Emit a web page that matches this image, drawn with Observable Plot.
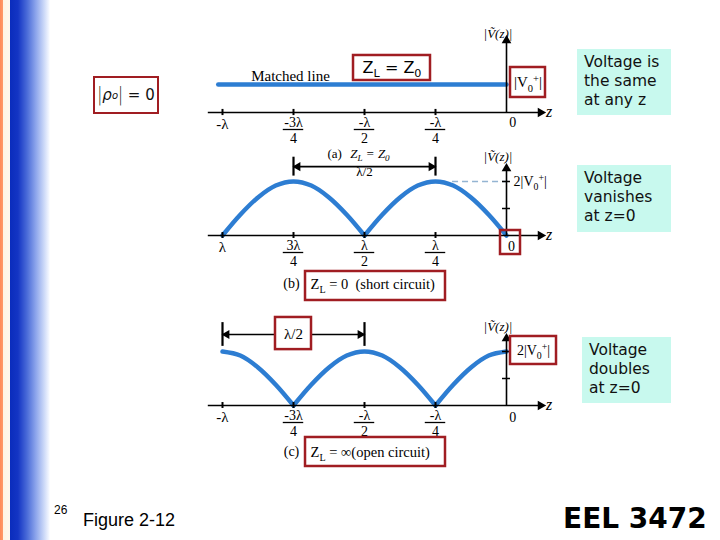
<!DOCTYPE html>
<html>
<head>
<meta charset="utf-8">
<script src="https://cdn.jsdelivr.net/npm/d3@7"></script>
<script src="https://cdn.jsdelivr.net/npm/@observablehq/plot@0.6"></script>
<style>
  html, body { margin: 0; padding: 0; background: #fff; }
  #slide { position: relative; width: 720px; height: 540px; overflow: hidden; background: #fff; }
  #stripe { position: absolute; left: 0; top: 0; width: 50px; height: 540px;
    background: linear-gradient(to right, #ff8a58 0px, #ff9a6a 3px, #fff4e4 3px, #fff8ee 10px,
      #0a2cbc 10px, #1435c4 18px, #4a6bd8 27px, #8ea6ec 36px, #cbd8f8 44px, #f4f7ff 49px, #ffffff 50px); }
  .pane { position: absolute; left: 0; }
  .note { position: absolute; background: #c8f9ee; font-family: "DejaVu Sans", Verdana, sans-serif;
    font-size: 15.5px; line-height: 19px; color: #111; box-sizing: border-box; padding: 4px 0 0 7px; }
  #rho { position: absolute; left: 93px; top: 76px; width: 66px; height: 38px; box-sizing: border-box;
    border: 2.5px solid #a01d22; font-family: "DejaVu Sans", sans-serif; font-size: 15px; white-space: nowrap;
    display: flex; align-items: center; justify-content: center; color: #111; }
  #rho .bar { font-family: "DejaVu Sans", sans-serif; font-weight: 200; transform: scaleY(1.25); display: inline-block; }
  #rho sub { font-size: 10px; font-style: italic; vertical-align: -3px; }
  .foot { position: absolute; color: #000; white-space: nowrap; }
</style>
</head>
<body>
<div id="slide">
  <div id="stripe"></div>
  <div id="pa" class="pane" style="top:0px"></div>
  <div id="pb" class="pane" style="top:140px"></div>
  <div id="pc" class="pane" style="top:302px"></div>
  <div id="rho"><span class="bar">|</span><i>ρ</i><sub>o</sub><span class="bar">|</span>&nbsp;=&nbsp;0</div>
  <div class="note" style="left:577px;top:49px;width:94px;height:66px">Voltage is<br>the same<br>at any z</div>
  <div class="note" style="left:577px;top:165px;width:94px;height:67px">Voltage<br>vanishes<br>at z=0</div>
  <div class="note" style="left:582px;top:337px;width:89px;height:66px">Voltage<br>doubles<br>at z=0</div>
  <div class="foot" style="left:54px;top:503px;font:12px 'Liberation Sans',Arial,sans-serif">26</div>
  <div class="foot" style="left:83px;top:510px;font:18px 'Liberation Sans',Arial,sans-serif">Figure 2-12</div>
  <div class="foot" style="left:563px;top:502px;font:bold 28px 'DejaVu Sans',Verdana,sans-serif">EEL 3472</div>
</div>
<script>
// ---------------- data (z in units of λ, |V| in units of |V0+|) ----------------
const zDomain = [-506 / 284, 214 / 284];
const zAxisExtent = [-1.05, 0.12];
const tickZ = [-1, -0.75, -0.5, -0.25];
const tickNumNeg = ["-λ", "-3λ", "-λ", "-λ"];
const tickNumPos = ["λ", "3λ", "λ", "λ"];
const tickDen = ["", "4", "2", "4"];
const vTicks = [1, 2];

// (a) matched line: flat |V| = |V0+|
const matchedZ = [-1.015, 0];
const matchedV = [1, 1];

// sample positions
const sampleZ = [-1, -0.9375, -0.875, -0.8125, -0.75, -0.6875, -0.625, -0.5625, -0.5,
                 -0.4375, -0.375, -0.3125, -0.25, -0.1875, -0.125, -0.0625, 0];
// (b) short circuit
const shortV = [0, 0.77, 1.41, 1.85, 2, 1.85, 1.41, 0.77, 0, 0.77, 1.41, 1.85, 2, 1.85, 1.41, 0.77, 0];
// (c) open circuit
const openV = [2, 1.85, 1.41, 0.77, 0, 0.77, 1.41, 1.85, 2, 1.85, 1.41, 0.77, 0, 0.77, 1.41, 1.85, 2];

const BLUE = "#2d7dd2";
const RED = "#a01d22";
const SERIF = "Liberation Serif, Times New Roman, serif";
const SANS = "DejaVu Sans, Verdana, sans-serif";

// split a |V| curve into arches at its zeros
function arches(zs, vs) {
  const out = [];
  let k = 0;
  zs.forEach((z, i) => {
    out.push({ z, v: vs[i], arch: k });
    if (vs[i] === 0 && i > 0 && i < zs.length - 1) { k++; out.push({ z, v: vs[i], arch: k }); }
  });
  return out;
}

function axisMarks(vTop, nums) {
  const ticks = tickZ.map((z, i) => ({ z, num: nums[i], den: tickDen[i] }));
  const withDen = ticks.filter(d => d.den);
  return [
    Plot.ruleY([0], { x1: zAxisExtent[0], x2: zAxisExtent[1], stroke: "#000", strokeWidth: 1.6 }),
    Plot.dot([0], { x: zAxisExtent[1], y: 0, symbol: "triangle", r: 3.6, fill: "#000", stroke: "none", rotate: 90 }),
    Plot.ruleX([0], { y1: 0, y2: vTop, stroke: "#000", strokeWidth: 1.6 }),
    Plot.dot([0], { x: 0, y: vTop, symbol: "triangle", r: 3.6, fill: "#000", stroke: "none" }),
    Plot.ruleX(tickZ, { y1: -0.11, y2: 0.11, stroke: "#000", strokeWidth: 2 }),
    Plot.text(ticks.filter(d => !d.den), { x: "z", y: 0, text: "num", dy: 12, fontFamily: SERIF, fontSize: 15 }),
    Plot.text(withDen, { x: "z", y: 0, text: "num", dy: 10, fontFamily: SERIF, fontSize: 14 }),
    Plot.ruleY(withDen, { y: 0, x1: d => d.z - 0.036, x2: d => d.z + 0.036, dy: 17, stroke: "#000", strokeWidth: 1.3 }),
    Plot.text(withDen, { x: "z", y: 0, text: "den", dy: 26, fontFamily: SERIF, fontSize: 14 }),
    Plot.text(["z"], { x: 0.15, y: 0, text: d => d, dy: -1, fontFamily: SERIF, fontStyle: "italic", fontSize: 16 })
  ];
}

function vTickMarks() {
  return Plot.ruleY(vTicks, { x1: -0.014, x2: 0.014, stroke: "#000", strokeWidth: 1.5 });
}

// turn "_x" / "^x" into sub/superscript tspans
function richText(svg) {
  const NS = "http://www.w3.org/2000/svg";
  svg.querySelectorAll("text").forEach(t => {
    const s = t.textContent;
    if (!/[_^]/.test(s)) return;
    const host = t.closest("[font-size]");
    const fs = host ? parseFloat(host.getAttribute("font-size")) : 12;
    t.textContent = "";
    let off = 0;
    for (let i = 0; i < s.length; i++) {
      let ch = s[i], target = 0, small = false;
      if ((ch === "_" || ch === "^") && i + 1 < s.length) {
        target = ch === "_" ? fs * 0.28 : -fs * 0.38;
        small = true;
        ch = s[++i];
      }
      const ts = document.createElementNS(NS, "tspan");
      ts.textContent = ch;
      if (small) ts.setAttribute("font-size", (fs * 0.7).toFixed(1));
      const d = target - off;
      if (d) ts.setAttribute("dy", d.toFixed(2));
      off = target;
      t.appendChild(ts);
    }
  });
  return svg;
}

function make(height, yDomain, marks) {
  const svg = Plot.plot({
    width: 720, height,
    marginLeft: 0, marginRight: 0, marginTop: 0, marginBottom: 0,
    x: { domain: zDomain, axis: null },
    y: { domain: yDomain, axis: null },
    style: { background: "transparent", overflow: "visible" },
    marks
  });
  return richText(svg);
}

// ---------------- panel (a): matched line ----------------
const matched = matchedZ.map((z, i) => ({ z, v: matchedV[i] }));
document.getElementById("pa").append(make(140, [-1, 4], [
  Plot.line(matched, { x: "z", y: "v", stroke: BLUE, strokeWidth: 4.5, strokeLinecap: "round" }),
  ...axisMarks(2.57, tickNumNeg),
  Plot.text(["0"], { x: 0.022, y: 0, text: d => d, dy: 10, fontFamily: SERIF, fontSize: 14 }),
  Plot.text(["Matched line"], { x: -0.7606, y: 1.29, text: d => d, fontFamily: SERIF, fontSize: 15 }),
  Plot.rect([0], { x1: -0.5387, x2: -0.2676, y1: 1.143, y2: 2.036, fill: "white", stroke: RED, strokeWidth: 2.5 }),
  Plot.text(["Z_L = Z_0"], { x: -0.403, y: 1.6, text: d => d, fontFamily: SANS, fontSize: 16 }),
  Plot.rect([0], { x1: 0.0141, x2: 0.1373, y1: 0.536, y2: 1.607, fill: "white", stroke: RED, strokeWidth: 2.5 }),
  Plot.text(["|V_0^+|"], { x: 0.0757, y: 1.07, text: d => d, fontFamily: SERIF, fontSize: 15 }),
  Plot.text(["|Ṽ(z)|"], { x: -0.03, y: 2.82, text: d => d, fontFamily: SERIF, fontStyle: "italic", fontSize: 13 })
]));

// ---------------- panel (b): short circuit ----------------
document.getElementById("pb").append(make(162, [-67 / 27, 95 / 27], [
  Plot.ruleY([2], { x1: -0.19, x2: 0, stroke: "#94b4d2", strokeWidth: 1.5, strokeDasharray: "6,4" }),
  Plot.line(arches(sampleZ, shortV), { x: "z", y: "v", z: "arch", curve: "catmull-rom", stroke: BLUE, strokeWidth: 4.5, strokeLinecap: "round" }),
  ...axisMarks(2.48, tickNumPos),
  vTickMarks(),
  Plot.rect([0], { x1: -0.0211, x2: 0.0493, y1: -0.704, y2: 0.185, fill: "none", stroke: RED, strokeWidth: 2.5 }),
  Plot.text(["0"], { x: 0.018, y: 0, text: d => d, dy: 11, fontFamily: SERIF, fontSize: 14 }),
  Plot.text(["2|V_0^+|"], { x: 0.025, y: 2, text: d => d, textAnchor: "start", fontFamily: SERIF, fontSize: 14 }),
  Plot.text(["|Ṽ(z)|"], { x: -0.03, y: 2.93, text: d => d, fontFamily: SERIF, fontStyle: "italic", fontSize: 13 }),
  // λ/2 dimension
  Plot.ruleY([2.55], { x1: -0.75, x2: -0.25, stroke: "#000", strokeWidth: 1.6 }),
  Plot.ruleX([-0.75, -0.25], { y1: 2.2, y2: 2.9, stroke: "#000", strokeWidth: 2.2 }),
  Plot.dot([-0.735], { x: d => d, y: 2.55, symbol: "triangle", r: 3.4, fill: "#000", stroke: "none", rotate: -90 }),
  Plot.dot([-0.265], { x: d => d, y: 2.55, symbol: "triangle", r: 3.4, fill: "#000", stroke: "none", rotate: 90 }),
  Plot.text(["(a)"], { x: -0.605, y: 2.93, text: d => d, dy: -3, fontFamily: SERIF, fontSize: 13 }),
  Plot.text(["Z_L = Z_0"], { x: -0.55, y: 2.93, text: d => d, dy: -3, textAnchor: "start", fontFamily: SERIF, fontStyle: "italic", fontSize: 13 }),
  Plot.text(["λ/2"], { x: -0.5, y: 2.55, text: d => d, dy: 5, fontFamily: SERIF, fontSize: 13 }),
  // caption
  Plot.text(["(b)"], { x: -0.757, y: -1.78, text: d => d, fontFamily: SERIF, fontSize: 14 }),
  Plot.rect([0], { x1: -0.7077, x2: -0.2148, y1: -2.407, y2: -1.333, fill: "none", stroke: RED, strokeWidth: 2.5 }),
  Plot.text(["Z_L = 0  (short circuit)"], { x: -0.69, y: -1.8, text: d => d, textAnchor: "start", fontFamily: SERIF, fontSize: 14.5 })
]));

// ---------------- panel (c): open circuit ----------------
document.getElementById("pc").append(make(173, [-70 / 27, 103 / 27], [
  Plot.line(arches(sampleZ, openV), { x: "z", y: "v", z: "arch", curve: "catmull-rom", stroke: BLUE, strokeWidth: 4.5, strokeLinecap: "round" }),
  ...axisMarks(2.48, tickNumNeg),
  vTickMarks(),
  Plot.text(["0"], { x: 0.022, y: 0, text: d => d, dy: 12, fontFamily: SERIF, fontSize: 14 }),
  Plot.text(["|Ṽ(z)|"], { x: -0.03, y: 2.93, text: d => d, fontFamily: SERIF, fontStyle: "italic", fontSize: 13 }),
  Plot.rect([0], { x1: 0.0141, x2: 0.1761, y1: 1.519, y2: 2.556, fill: "white", stroke: RED, strokeWidth: 2.5 }),
  Plot.text(["2|V_0^+|"], { x: 0.095, y: 2.03, text: d => d, fontFamily: SERIF, fontSize: 14 }),
  // λ/2 dimension
  Plot.ruleY([2.63], { x1: -1, x2: -0.5, stroke: "#000", strokeWidth: 1.6 }),
  Plot.ruleX([-1, -0.5], { y1: 2.19, y2: 3.07, stroke: "#000", strokeWidth: 2.2 }),
  Plot.dot([-0.985], { x: d => d, y: 2.63, symbol: "triangle", r: 3.4, fill: "#000", stroke: "none", rotate: -90 }),
  Plot.dot([-0.515], { x: d => d, y: 2.63, symbol: "triangle", r: 3.4, fill: "#000", stroke: "none", rotate: 90 }),
  Plot.rect([0], { x1: -0.8134, x2: -0.6866, y1: 2.07, y2: 3.26, fill: "white", stroke: RED, strokeWidth: 2.5 }),
  Plot.text(["λ/2"], { x: -0.75, y: 2.64, text: d => d, fontFamily: SERIF, fontSize: 15 }),
  // caption
  Plot.text(["(c)"], { x: -0.757, y: -1.7, text: d => d, fontFamily: SERIF, fontSize: 14 }),
  Plot.rect([0], { x1: -0.7077, x2: -0.2148, y1: -2.259, y2: -1.185, fill: "none", stroke: RED, strokeWidth: 2.5 }),
  Plot.text(["Z_L = ∞(open circuit)"], { x: -0.69, y: -1.72, text: d => d, textAnchor: "start", fontFamily: SERIF, fontSize: 14.5 })
]));
</script>
</body>
</html>
